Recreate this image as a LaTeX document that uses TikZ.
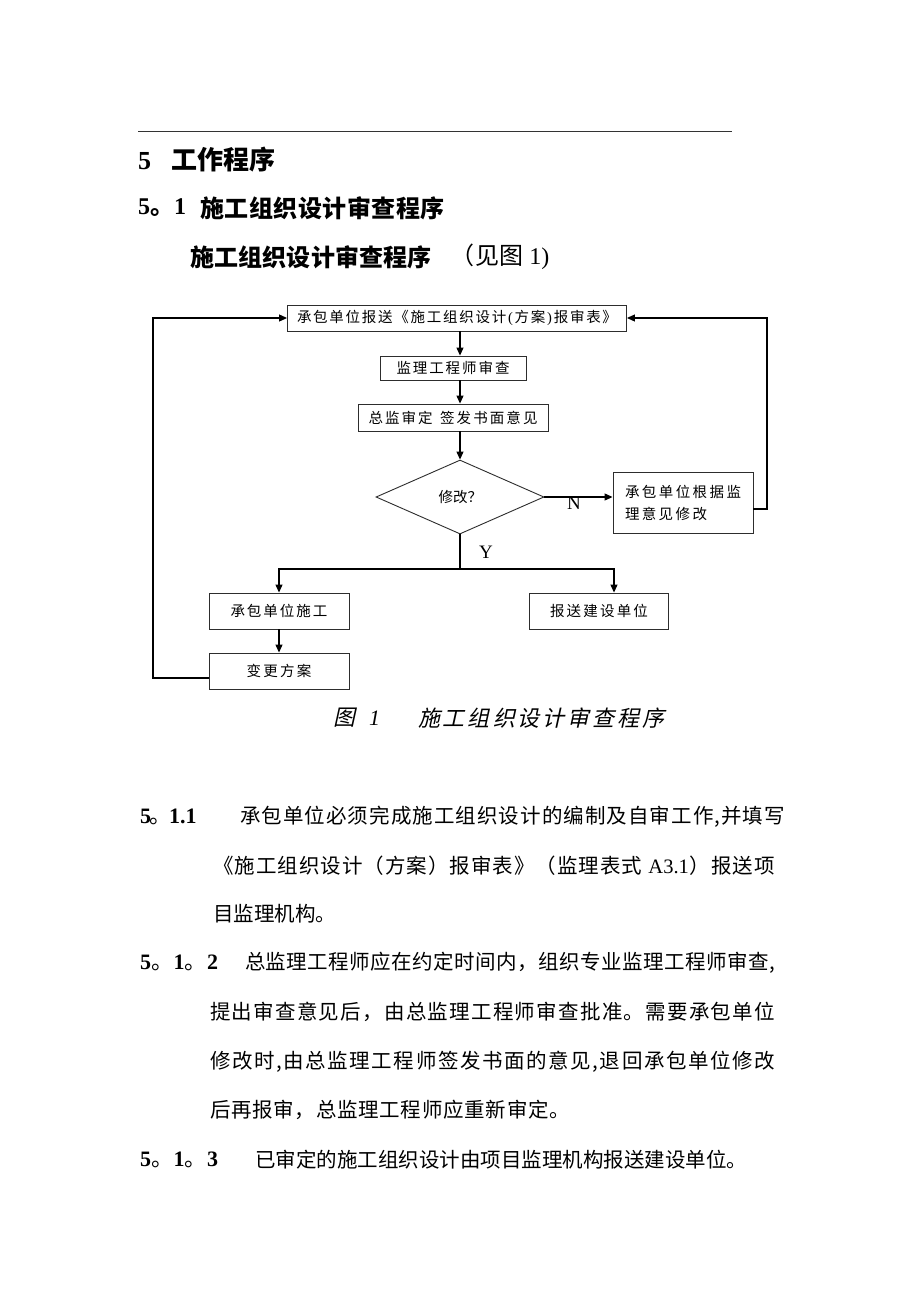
\documentclass[tikz,border=0pt]{standalone}
\usepackage{fontspec}
\setmainfont{Noto Sans CJK SC}
\newfontfamily\lat{Liberation Serif}
\newfontfamily\cjkit{Noto Sans CJK SC}[FakeSlant=0.22]
\usetikzlibrary{arrows.meta,shapes.geometric}
\makeatletter
\newcommand\fitline[2]{\hbox to #1{\@tfor\fl@c:=#2\do{\fl@c\hfil}\unskip}}
\makeatother
\definecolor{bordc}{RGB}{45,45,45}
\tikzset{
  txt/.style={anchor=west, inner sep=0pt, outer sep=0pt},
  bodyf/.style={font=\fontsize{20.5}{24}\selectfont},
  lblf/.style={font=\fontsize{22}{24}\selectfont},
  fbox/.style={draw=bordc, line width=0.9pt, rectangle, inner sep=0pt, font=\fontsize{14.5}{16}\selectfont},
  conn/.style={draw=black, line width=1.1pt},
  arr/.style={conn, -{Triangle[length=8pt,width=7pt]}},
}
\begin{document}
\begin{tikzpicture}[x=1pt,y=-1pt]
\useasboundingbox (0,0) rectangle (920,1302);
\fill[white] (0,0) rectangle (920,1302);
% rule
\coordinate (r1) at (138,131);
\coordinate (r2) at (732,131);
\draw[black!80, line width=0.8pt] (r1) -- (r2);
% headings
\node[txt, font=\fontsize{26}{30}\selectfont\bfseries] (h1) at (138,160) {\hbox to 137pt{{\lat 5}\hfil 工作程序}};
\node[txt, font=\fontsize{24}{28}\selectfont\bfseries] (h2a) at (138,208) {\hbox{{\lat 5}。{\lat 1}}};
\node[txt, font=\fontsize{24}{28}\selectfont\bfseries] (h2b) at (200,208) {\fitline{245pt}{施工组织设计审查程序}};
\node[txt, font=\fontsize{24}{28}\selectfont\bfseries] (h3a) at (190,257) {\fitline{242pt}{施工组织设计审查程序}};
\node[txt, font=\fontsize{24}{28}\selectfont] (h3b) at (450,257) {（\hspace{2pt}见图 {\lat 1)}};
% flowchart
\node[fbox, minimum width=339pt, minimum height=26pt] (top) at (457,318) {\fitline{320pt}{承包单位报送《施工组织设计{{\lat (}}方案{{\lat )}}报审表》}};
\node[fbox, minimum width=146pt, minimum height=24pt] (b2) at (453,368) {\fitline{113pt}{监理工程师审查}};
\node[fbox, minimum width=190pt, minimum height=27pt] (b3) at (453,417.5) {\fitline{169pt}{总监审定{\ }签发书面意见}};
\node[draw=bordc, line width=0.9pt, diamond, aspect=2.27, minimum width=168pt, minimum height=74pt, inner sep=0pt, font=\fontsize{14.5}{16}\selectfont] (dia) at (460,497) {\fitline{43pt}{修改？}};
\node[fbox, minimum width=140pt, minimum height=61pt, align=left] (rb) at (683,502.5) {\fitline{116pt}{承包单位根据监}\\[6pt]\fitline{82pt}{理意见修改}};
\node[fbox, minimum width=140pt, minimum height=36pt] (bl) at (279,611) {\fitline{97pt}{承包单位施工}};
\node[fbox, minimum width=139pt, minimum height=36pt] (br) at (599,611) {\fitline{98pt}{报送建设单位}};
\node[fbox, minimum width=140pt, minimum height=36pt] (bv) at (279,671) {\fitline{65pt}{变更方案}};
% connectors
\draw[arr] (top.south -| dia.north) -- (b2.north -| dia.north);
\draw[arr] (b2.south -| dia.north) -- (b3.north -| dia.north);
\draw[arr] (b3.south -| dia.north) -- (dia.north);
\draw[arr] (dia.east) -- (dia.east -| rb.west);
\node[txt, font=\fontsize{19}{20}\lat] (nlab) at (567,503) {N};
\coordinate (rr1) at (767,509);
\draw[arr] (rb.east |- rr1) -- (rr1) -- (rr1 |- top.east) -- (top.east);
\coordinate (yj) at (460,569);
\coordinate (yl) at (279,569);
\coordinate (yr) at (614,569);
\draw[conn] (dia.south) -- (yj);
\node[txt, font=\fontsize{19}{20}\lat] (ylab) at (479,552) {Y};
\draw[arr] (yj) -- (yl) -- (bl.north);
\draw[arr] (yj) -- (yr) -- (yr |- br.north);
\draw[arr] (bl.south) -- (bv.north);
\coordinate (ll1) at (153,678);
\draw[arr] (bv.west |- ll1) -- (ll1) -- (ll1 |- top.west) -- (top.west);
% caption
\node[txt, font=\fontsize{22}{26}\selectfont\cjkit] (cap1) at (333,718) {图\hspace{14pt}{\lat\itshape 1}};
\node[txt, font=\fontsize{22}{26}\selectfont\cjkit] (cap2) at (418,718) {\fitline{247pt}{施工组织设计审查程序}};
% body
\node[txt, lblf] (l1a) at (140,817) {\hbox{{\lat\bfseries 5}\kern-2pt。\kern-2pt{\lat\bfseries 1.1}}};
\node[txt, bodyf] (l1b) at (240,817) {\fitline{545pt}{承包单位必须完成施工组织设计的编制及自审工作{{,}}并填写}};
\node[txt, bodyf] (l2) at (213,866) {\fitline{562pt}{《施工组织设计（方案）报审表》（监理表式{{\lat\ A3.1}}）报送项}};
\node[txt, bodyf] (l3) at (213,914) {\fitline{123pt}{目监理机构。}};
\node[txt, lblf] (l4a) at (140,963) {\fitline{78pt}{{{\lat\bfseries 5}}。{{\lat\bfseries 1}}。{{\lat\bfseries 2}}}};
\node[txt, bodyf] (l4b) at (245,963) {\fitline{530pt}{总监理工程师应在约定时间内，组织专业监理工程师审查{{,}}}};
\node[txt, bodyf] (l5) at (210,1012) {\fitline{565pt}{提出审查意见后，由总监理工程师审查批准。需要承包单位}};
\node[txt, bodyf] (l6) at (210,1062) {\fitline{565pt}{修改时{{,}}由总监理工程师签发书面的意见{{,}}退回承包单位修改}};
\node[txt, bodyf] (l7) at (210,1110) {\fitline{360pt}{后再报审，总监理工程师应重新审定。}};
\node[txt, lblf] (l8a) at (140,1160) {\fitline{78pt}{{{\lat\bfseries 5}}。{{\lat\bfseries 1}}。{{\lat\bfseries 3}}}};
\node[txt, bodyf] (l8b) at (255,1160) {\fitline{490pt}{已审定的施工组织设计由项目监理机构报送建设单位。}};
\end{tikzpicture}
\end{document}
